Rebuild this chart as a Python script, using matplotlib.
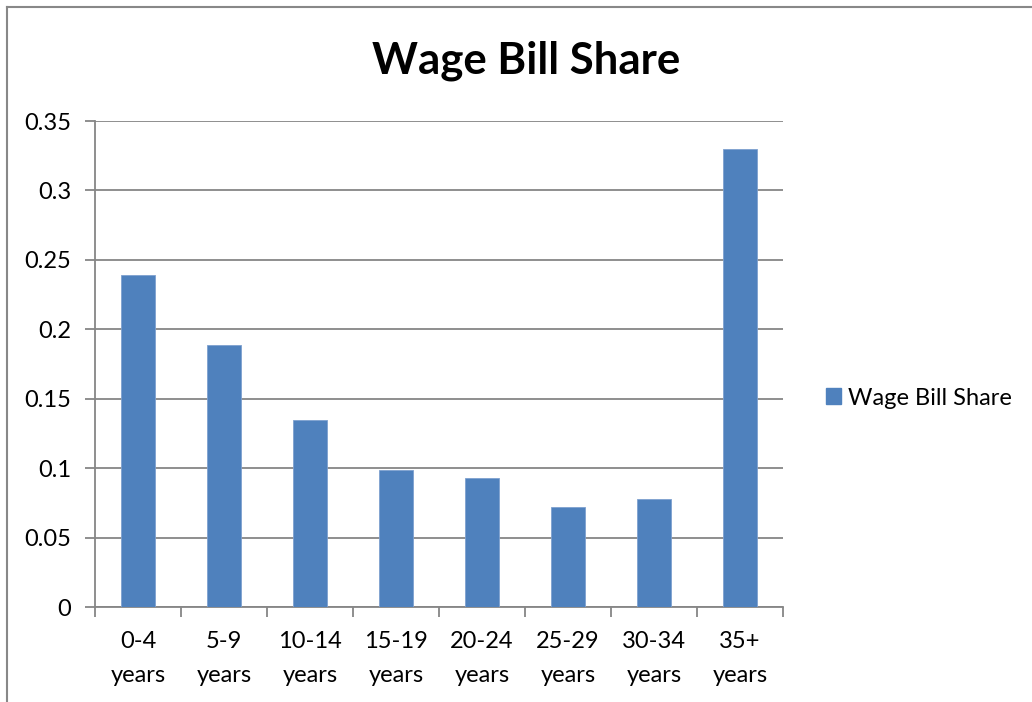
import matplotlib.pyplot as plt
from matplotlib.lines import Line2D
from matplotlib.patches import Patch
import numpy as np

categories = ['0-4\nyears', '5-9\nyears', '10-14\nyears', '15-19\nyears',
              '20-24\nyears', '25-29\nyears', '30-34\nyears', '35+\nyears']
share = [0.239, 0.189, 0.135, 0.099, 0.093, 0.072, 0.078, 0.33]
yticks = [0, 0.05, 0.1, 0.15, 0.2, 0.25, 0.3, 0.35]
ylabels = ['0', '0.05', '0.1', '0.15', '0.2', '0.25', '0.3', '0.35']

plt.rcParams['font.family'] = ['Lato', 'DejaVu Sans']
bar_col = '#4F81BD'
grid_col = '#868686'
fs = 17

fig = plt.figure(figsize=(10.32, 7.02), dpi=100)
ax = fig.add_axes([0.092, 0.1353, 0.6667, 0.6923])

x = np.arange(len(categories))
ax.bar(x, share, width=0.4, color=bar_col, edgecolor='#7EA0CF', linewidth=0.6, zorder=3)

ax.set_xlim(-0.5, len(categories) - 0.5)
ax.set_ylim(0, 0.35)
ax.set_yticks(yticks)
ax.set_yticklabels(ylabels, fontsize=fs)
ax.set_xticks(x)
ax.set_xticklabels(categories, fontsize=fs, linespacing=1.8)
ax.set_xticks(np.arange(len(categories) + 1) - 0.5, minor=True)
ax.tick_params(axis='x', which='major', length=0, pad=17)
ax.tick_params(axis='x', which='minor', length=7, width=1.3, color=grid_col, direction='out')
ax.tick_params(axis='y', length=7, width=1.3, color=grid_col, pad=10)
ax.yaxis.grid(True, color=grid_col, linewidth=1.3, zorder=0)

for s in ['top', 'right']:
    ax.spines[s].set_visible(False)
for s in ['left', 'bottom']:
    ax.spines[s].set_color(grid_col)
    ax.spines[s].set_linewidth(1.3)

fig.text(0.5097, 0.914, 'Wage Bill Share', fontsize=31.5, fontweight='bold',
         ha='center', va='center')

handle = Patch(facecolor=bar_col, edgecolor=bar_col)
fig.legend([handle], ['Wage Bill Share'], loc='center left',
           bbox_to_anchor=(0.8004, 0.433), frameon=False, fontsize=fs,
           borderaxespad=0, borderpad=0,
           handlelength=0.64, handleheight=0.64, handletextpad=0.3)

# outer chart border (left and top visible)
fig.add_artist(Line2D([7 / 1032, 7 / 1032], [0, 1 - 7 / 702], color='#888888', lw=1.5,
                      transform=fig.transFigure))
fig.add_artist(Line2D([7 / 1032, 1], [1 - 7 / 702, 1 - 7 / 702], color='#888888', lw=1.5,
                      transform=fig.transFigure))

fig.savefig('out.png', dpi=100)
